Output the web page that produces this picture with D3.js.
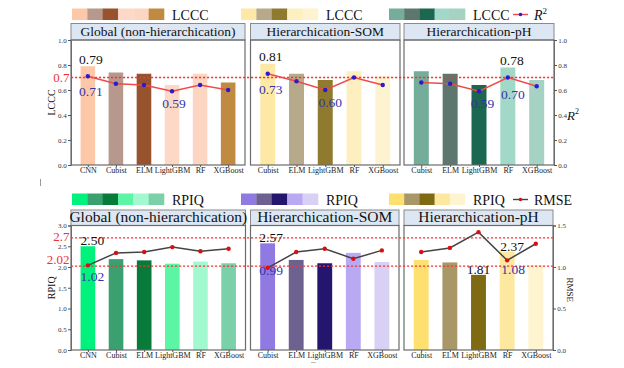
<!DOCTYPE html>
<html><head><meta charset="utf-8">
<script src="https://cdn.jsdelivr.net/npm/d3@7/dist/d3.min.js"></script>
<style>body{margin:0;background:#fff}svg{display:block;font-family:"Liberation Serif","Tinos","Times New Roman","Nimbus Roman",serif}</style>
</head><body><svg id="c" width="624" height="368"></svg>
<script>
// ---------- data ----------
const panelTitles = ["Global (non-hierarchication)", "Hierarchication-SOM", "Hierarchication-pH"];
const modelsGlobal = ["CNN", "Cubist", "ELM", "LightGBM", "RF", "XGBoost"];
const modelsSOM = ["Cubist", "ELM", "LightGBM", "RF", "XGBoost"];
const modelsPH = ["Cubist", "ELM", "LightGBM", "RF", "XGBoost"];

const lcccGlobal = [0.79, 0.74, 0.73, 0.64, 0.73, 0.66];
const lcccSOM = [0.81, 0.73, 0.68, 0.75, 0.71];
const lcccPH = [0.75, 0.73, 0.64, 0.78, 0.68];
const r2Global = [0.71, 0.65, 0.64, 0.59, 0.64, 0.60];
const r2SOM = [0.73, 0.67, 0.60, 0.70, 0.64];
const r2PH = [0.66, 0.65, 0.59, 0.70, 0.63];

const rpiqGlobal = [2.50, 2.19, 2.16, 2.08, 2.13, 2.09];
const rpiqSOM = [2.57, 2.17, 2.09, 2.34, 2.12];
const rpiqPH = [2.17, 2.11, 1.81, 2.37, 2.05];
const rmseGlobal = [1.02, 1.17, 1.18, 1.24, 1.19, 1.22];
const rmseSOM = [0.99, 1.18, 1.22, 1.10, 1.20];
const rmsePH = [1.18, 1.23, 1.42, 1.08, 1.28];

const lcccTicks = [0, 0.2, 0.4, 0.6, 0.8, 1.0];
const rpiqTicks = [0, 0.5, 1.0, 1.5, 2.0, 2.5, 3.0];
const rmseTicks = [0, 0.5, 1.0, 1.5];
const lcccRefs = [0.7];
const rpiqRefs = [2.7, 2.02];

// ---------- styles ----------
const colLcccGlobal = ["#fcc8a8", "#b6998c", "#97532d", "#fdd8c6", "#fdd6c2", "#c08a41"];
const colLcccSOM = ["#fde8a6", "#b7aa8b", "#8f7a2d", "#fdefc0", "#fef3d0"];
const colLcccPH = ["#74ae9a", "#5e776e", "#1c6750", "#a2d8c7", "#a6d2c4"];
const colRpiqGlobal = ["#00f27c", "#3aa070", "#087a3a", "#5cf5a6", "#a2f9d0", "#7ad0a8"];
const colRpiqSOM = ["#9079e0", "#6d6190", "#24166e", "#b9a9f2", "#d8d0f5"];
const colRpiqPH = ["#fde070", "#a89868", "#7e6a12", "#fde8a0", "#fef4d0"];

const serif = '"Liberation Serif","Tinos","Times New Roman","Nimbus Roman",serif';
const blue = "#3434ac", red = "#ee3333";

const rows = [
  {
    top: 40, bottom: 165, hdrTop: 23.5, hdrFont: 13.5,
    panelsX: [[71, 245], [250.5, 400], [404, 554]],
    models: [modelsGlobal, modelsSOM, modelsPH],
    bars: [lcccGlobal, lcccSOM, lcccPH],
    lines: [r2Global, r2SOM, r2PH],
    colors: [colLcccGlobal, colLcccSOM, colLcccPH],
    leftDomain: [0, 1], rightDomain: [0, 1],
    leftTicks: lcccTicks, rightTicks: lcccTicks,
    refs: lcccRefs, refLabels: ["0.7"], refLabelDy: [0],
    lineColor: "#f04a4a", markerColor: "#2a1ccc",
    leftLabel: "LCCC", legendText: "LCCC", seriesText: "R²",
    legendY: 8.5,
    ann: [
      {p: 0, i: 0, k: "bar", dx: 3}, {p: 0, i: 0, k: "line", dx: 3, dy: 20}, {p: 0, i: 3, k: "line", dx: 2, dy: 16.5},
      {p: 1, i: 0, k: "bar", dx: 3}, {p: 1, i: 0, k: "line", dx: 3, dy: 20.5}, {p: 1, i: 2, k: "line", dx: 5, dy: 16.7},
      {p: 2, i: 3, k: "bar", dx: 4}, {p: 2, i: 3, k: "line", dx: 5, dy: 21.5}, {p: 2, i: 2, k: "line", dx: 3.5, dy: 16.5}
    ]
  },
  {
    top: 225.5, bottom: 350, hdrTop: 210, hdrFont: 15.5,
    panelsX: [[71, 245.5], [250.5, 399], [404, 553]],
    models: [modelsGlobal, modelsSOM, modelsPH],
    bars: [rpiqGlobal, rpiqSOM, rpiqPH],
    lines: [rmseGlobal, rmseSOM, rmsePH],
    colors: [colRpiqGlobal, colRpiqSOM, colRpiqPH],
    leftDomain: [0, 3], rightDomain: [0, 1.5],
    leftTicks: rpiqTicks, rightTicks: rmseTicks,
    refs: rpiqRefs, refLabels: ["2.7", "2.02"], refLabelDy: [-1.5, -6.5],
    lineColor: "#444444", markerColor: "#d81010",
    leftLabel: "RPIQ", legendText: "RPIQ", seriesText: "RMSE",
    legendY: 193.5,
    ann: [
      {p: 0, i: 0, k: "bar", dx: 4.5}, {p: 0, i: 0, k: "line", dx: 4.5, dy: 16},
      {p: 1, i: 0, k: "bar", dx: 3.5}, {p: 1, i: 0, k: "line", dx: 3.5, dy: 7},
      {p: 2, i: 3, k: "bar", dx: 5}, {p: 2, i: 2, k: "bar", dx: 0}, {p: 2, i: 3, k: "line", dx: 6, dy: 13.5}
    ]
  }
];

const legendSwatchX = [[72, 164], [241, 318], [389, 465]];

const svg = d3.select("#c");
const fmt2 = d3.format(".2f"), fmt1 = d3.format(".1f");

function txt(sel) { return sel.append("text").attr("font-family", serif); }

rows.forEach((row, r) => {
  const g = svg.append("g");
  const yL = d3.scaleLinear().domain(row.leftDomain).range([row.bottom, row.top]);
  const yR = d3.scaleLinear().domain(row.rightDomain).range([row.bottom, row.top]);
  const xs = [];

  // legend
  row.colors.forEach((cols, p) => {
    const [a, b] = legendSwatchX[p];
    const sx = d3.scaleBand().domain(d3.range(cols.length)).range([a, b]);
    g.selectAll(null).data(cols).enter().append("rect")
      .attr("x", (d, i) => sx(i)).attr("y", row.legendY)
      .attr("width", sx.bandwidth() + 0.3).attr("height", 11.5)
      .attr("fill", d => d);
    txt(g).attr("x", b + 8).attr("y", row.legendY + 11.5)
      .attr("font-size", 14).attr("fill", "#111").text(row.legendText);
  });
  const lx = legendSwatchX[2][1] + 48;
  g.append("line").attr("x1", lx).attr("x2", lx + 15).attr("y1", row.legendY + 6).attr("y2", row.legendY + 6)
    .attr("stroke", row.lineColor).attr("stroke-width", 1.4);
  g.append("circle").attr("cx", lx + 7.5).attr("cy", row.legendY + 6).attr("r", 1.8).attr("fill", row.markerColor);
  const st = txt(g).attr("x", lx + 21).attr("y", row.legendY + 11.5).attr("font-size", 14).attr("fill", "#111");
  if (r === 0) {
    st.append("tspan").attr("font-style", "italic").text("R");
    st.append("tspan").attr("font-size", 9).attr("dy", -6).text("2");
  } else st.text(row.seriesText);

  row.panelsX.forEach((px, p) => {
    const models = row.models[p];
    const x = d3.scalePoint().domain(models).range(px).padding(0.6);
    xs.push(x);
    const bw = x.step() * 0.52;
    const pg = g.append("g");

    // header
    pg.append("rect").attr("x", px[0]).attr("y", row.hdrTop).attr("width", px[1] - px[0]).attr("height", row.top - row.hdrTop)
      .attr("fill", "#dce7f3").attr("stroke", "#8a8a8a").attr("stroke-width", 1);
    txt(pg).attr("x", (px[0] + px[1]) / 2).attr("y", row.top - 3.8)
      .attr("text-anchor", "middle").attr("font-size", row.hdrFont).attr("fill", "#111").text(panelTitles[p]);

    // bars
    pg.selectAll(null).data(row.bars[p]).enter().append("rect")
      .attr("x", (d, i) => x(models[i]) - bw / 2).attr("width", bw)
      .attr("y", d => yL(d)).attr("height", d => yL(0) - yL(d))
      .attr("fill", (d, i) => row.colors[p][i]);

    // frame
    pg.append("rect").attr("x", px[0]).attr("y", row.top).attr("width", px[1] - px[0]).attr("height", row.bottom - row.top)
      .attr("fill", "none").attr("stroke", "#6c6c6c").attr("stroke-width", 1.2);

    // x axis
    const ax = pg.append("g").attr("transform", `translate(0,${row.bottom})`)
      .call(d3.axisBottom(x).tickSize(2).tickPadding(0.8));
    ax.select(".domain").remove();
    ax.selectAll("line").attr("stroke", "#555");
    ax.selectAll("text").attr("font-family", serif).attr("font-size", 8).attr("fill", "#222");
  });

  // reference lines (across all panels)
  row.refs.forEach((v, k) => {
    g.append("line").attr("x1", row.panelsX[0][0]).attr("x2", row.panelsX[2][1])
      .attr("y1", yL(v)).attr("y2", yL(v))
      .attr("stroke", "#ff3030").attr("stroke-width", 1.3).attr("stroke-dasharray", "2.2,1.8");
    txt(g).attr("x", row.panelsX[0][0] - 1.5).attr("y", yL(v) + row.refLabelDy[k]).attr("dy", "0.35em")
      .attr("text-anchor", "end").attr("font-size", 13).attr("fill", red).text(row.refLabels[k]);
  });

  // lines + markers
  row.panelsX.forEach((px, p) => {
    const models = row.models[p], x = xs[p];
    const line = d3.line().x((d, i) => x(models[i])).y(d => yR(d));
    g.append("path").datum(row.lines[p]).attr("d", line).attr("fill", "none")
      .attr("stroke", row.lineColor).attr("stroke-width", 1.5);
    g.selectAll(null).data(row.lines[p]).enter().append("circle")
      .attr("cx", (d, i) => x(models[i])).attr("cy", d => yR(d)).attr("r", 2.2).attr("fill", row.markerColor);
  });

  // annotations
  row.ann.forEach(a => {
    const x = xs[a.p], m = row.models[a.p][a.i];
    if (a.k === "bar") {
      const v = row.bars[a.p][a.i];
      txt(g).attr("x", x(m) + a.dx).attr("y", yL(v) - (r === 0 ? 2.5 : 1))
        .attr("text-anchor", "middle").attr("font-size", 13.5).attr("fill", "#111").text(fmt2(v));
    } else {
      const v = row.lines[a.p][a.i];
      txt(g).attr("x", x(m) + a.dx).attr("y", yR(v) + a.dy)
        .attr("text-anchor", "middle").attr("font-size", 13.5).attr("fill", blue).text(fmt2(v));
    }
  });

  // y axes
  const axL = g.append("g").attr("transform", `translate(${row.panelsX[0][0]},0)`)
    .call(d3.axisLeft(yL).tickValues(row.leftTicks).tickFormat(fmt1).tickSize(3).tickPadding(1.2));
  const axR = g.append("g").attr("transform", `translate(${row.panelsX[2][1]},0)`)
    .call(d3.axisRight(yR).tickValues(row.rightTicks).tickFormat(fmt1).tickSize(3).tickPadding(1.2));
  [axL, axR].forEach(a => {
    a.select(".domain").attr("stroke", "#6c6c6c");
    a.selectAll("line").attr("stroke", "#555");
    a.selectAll("text").attr("font-family", serif).attr("font-size", 7).attr("fill", "#333");
  });

  const cy = (row.top + row.bottom) / 2;
  txt(g).attr("transform", `translate(55,${cy}) rotate(-90)`).attr("text-anchor", "middle")
    .attr("font-size", 10).attr("fill", "#111").text(row.leftLabel);
  if (r === 0) {
    const t = txt(g).attr("x", row.panelsX[2][1] + 13).attr("y", yR(0.4) + 4.5)
      .attr("font-size", 13).attr("fill", "#111");
    t.append("tspan").attr("font-style", "italic").text("R");
    t.append("tspan").attr("font-size", 8).attr("dy", -6).text("2");
  } else {
    txt(g).attr("transform", `translate(${row.panelsX[2][1] + 14},${cy + 2}) rotate(90)`).attr("text-anchor", "middle")
      .attr("font-size", 9).attr("fill", "#111").text(row.seriesText);
  }
});

// small stray marks present in the source image
svg.append("line").attr("x1", 40.5).attr("x2", 40.5).attr("y1", 179).attr("y2", 186).attr("stroke", "#999").attr("stroke-width", 1);
svg.append("line").attr("x1", 311).attr("x2", 316).attr("y1", 362.5).attr("y2", 362.5).attr("stroke", "#bbb").attr("stroke-width", 1);
</script></body></html>
